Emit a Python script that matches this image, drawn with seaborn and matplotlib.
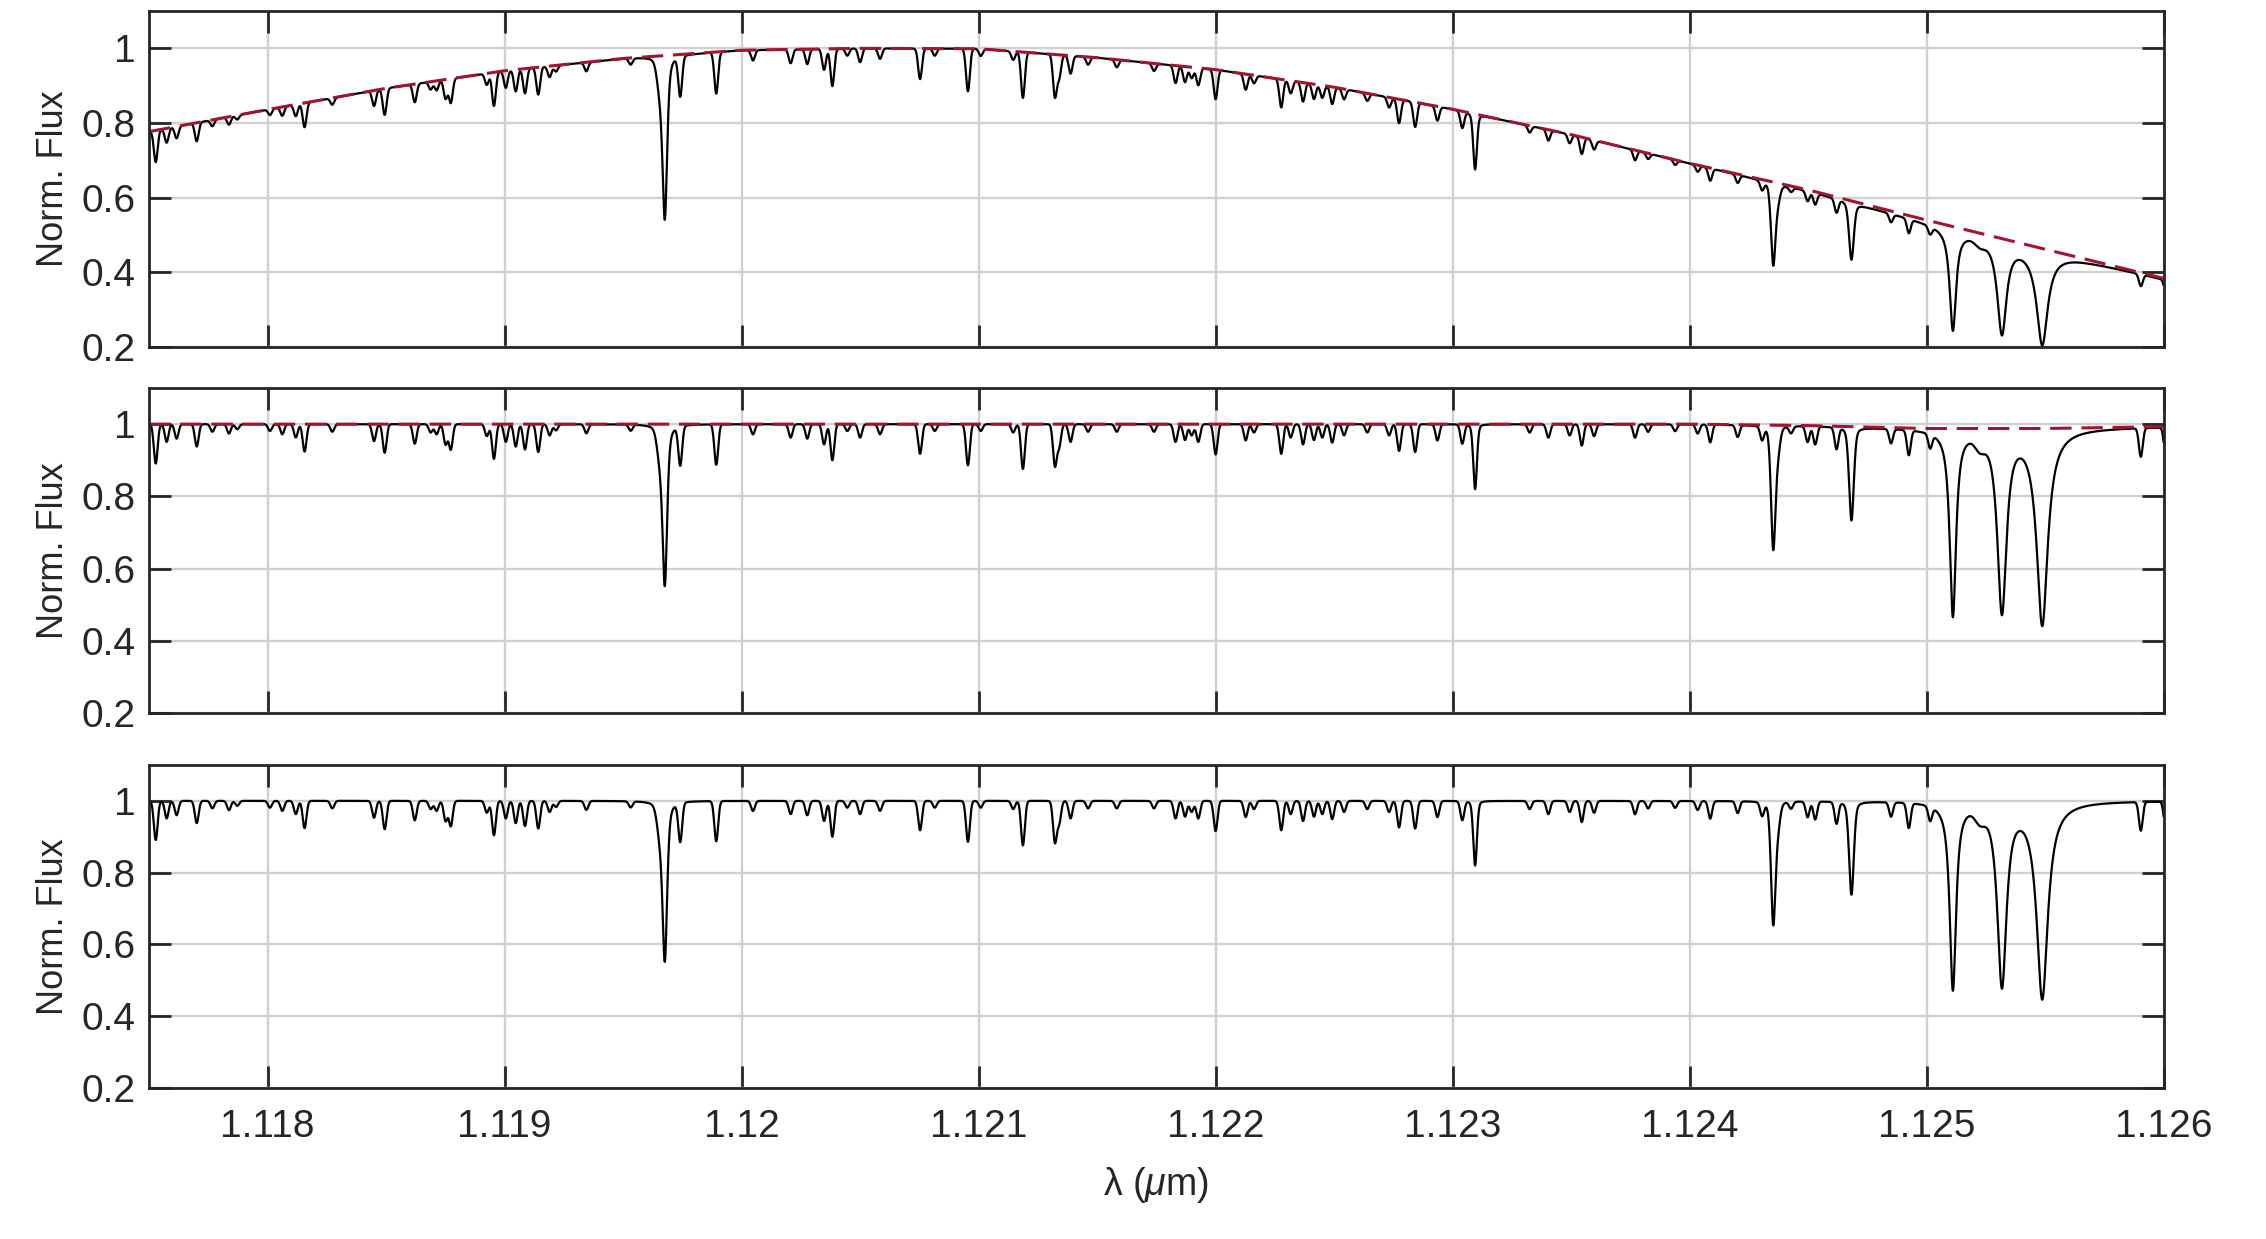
import numpy as np
import seaborn as sns
import matplotlib
matplotlib.use('Agg')
import matplotlib.pyplot as plt

# continuum knots (panel 1 dashed curve, panel 2 dashed curve)
cont_wave = [1.1175, 1.1180, 1.1185, 1.1190, 1.1195, 1.1200, 1.1205, 1.1210, 1.1215,
             1.1220, 1.1225, 1.1230, 1.1235, 1.1240, 1.1245, 1.1250, 1.1255, 1.1260]
cont_raw = [0.777, 0.836, 0.893, 0.940, 0.973, 0.995, 1.000, 0.999, 0.975,
            0.943, 0.896, 0.837, 0.769, 0.692, 0.621, 0.540, 0.462, 0.384]
cont2_wave = [1.1175, 1.1240, 1.1245, 1.1250, 1.1255, 1.1260]
cont2_vals = [1.000, 1.000, 0.996, 0.988, 0.988, 0.993]

# weak absorption lines (centre in um, depth)
weak_center = [1.117528, 1.117574, 1.117616, 1.117701, 1.117767, 1.117837, 1.117872,
               1.118010, 1.118062, 1.118119, 1.118156, 1.118273, 1.118449, 1.118494,
               1.118621, 1.118688, 1.118713, 1.118751, 1.118773, 1.118925, 1.118955,
               1.119005, 1.119047, 1.119086, 1.119142, 1.119190, 1.119217, 1.119345,
               1.119532, 1.119741, 1.119893, 1.120048, 1.120207, 1.120277, 1.120348,
               1.120383, 1.120446, 1.120500, 1.120584, 1.120753, 1.120815, 1.120955,
               1.121009, 1.121146, 1.121187, 1.121322, 1.121388, 1.121462, 1.121583,
               1.121740, 1.121831, 1.121871, 1.121899, 1.121927, 1.122000, 1.122127,
               1.122162, 1.122277, 1.122317, 1.122369, 1.122415, 1.122450, 1.122492,
               1.122542, 1.122640, 1.122732, 1.122774, 1.122842, 1.122936, 1.123041,
               1.123325, 1.123404, 1.123494, 1.123545, 1.123597, 1.123770, 1.123825,
               1.123939, 1.124034, 1.124087, 1.124203, 1.124306, 1.124428, 1.124498,
               1.124530, 1.124620, 1.124850, 1.124925, 1.125015, 1.125904, 1.126010]
weak_depth = [0.109, 0.049, 0.040, 0.062, 0.021, 0.026, 0.014,
              0.019, 0.028, 0.037, 0.076, 0.021, 0.047, 0.079,
              0.054, 0.023, 0.028, 0.056, 0.070, 0.033, 0.096,
              0.049, 0.062, 0.070, 0.077, 0.031, 0.017, 0.025,
              0.017, 0.109, 0.112, 0.028, 0.037, 0.040, 0.056,
              0.100, 0.019, 0.037, 0.028, 0.082, 0.019, 0.114,
              0.019, 0.023, 0.124, 0.114, 0.049, 0.021, 0.021,
              0.021, 0.049, 0.044, 0.031, 0.049, 0.084, 0.045,
              0.023, 0.082, 0.037, 0.056, 0.044, 0.037, 0.051,
              0.031, 0.023, 0.031, 0.074, 0.077, 0.045, 0.053,
              0.023, 0.037, 0.031, 0.059, 0.033, 0.037, 0.021,
              0.019, 0.025, 0.049, 0.033, 0.037, 0.019, 0.044,
              0.050, 0.060, 0.040, 0.070, 0.040, 0.080, 0.090]
weak_sigma = 8e-6

# strong / broad lines
strong_center = [1.119655, 1.119676, 1.121340, 1.123095, 1.124353, 1.124372,
                 1.124683, 1.125111, 1.125225, 1.125318, 1.125488]
strong_depth = [0.07, 0.44, 0.06, 0.18, 0.34, 0.06, 0.26, 0.525, 0.03, 0.515, 0.55]
strong_sigma = [1.2e-5, 1.0e-5, 8e-6, 7.8e-6, 9.5e-6, 1.0e-5, 1.0e-5, 1.36e-5, 2e-5, 1.95e-5, 2.4e-5]
strong_eta = [0.0, 0.5, 0.0, 0.2, 0.3, 0.0, 0.3, 0.9, 0.0, 0.9, 1.0]

xticks = [1.118, 1.119, 1.120, 1.121, 1.122, 1.123, 1.124, 1.125, 1.126]
xtick_labels = ['1.118', '1.119', '1.12', '1.121', '1.122', '1.123', '1.124', '1.125', '1.126']
yticks = [0.2, 0.4, 0.6, 0.8, 1.0]
ytick_labels = ['0.2', '0.4', '0.6', '0.8', '1']


def line_profile(w, c, s, eta):
    g = np.exp(-0.5 * ((w - c) / s) ** 2)
    gam = 1.1774 * s
    l = 1.0 / (1.0 + ((w - c) / gam) ** 2)
    return (1 - eta) * g + eta * l


wave = np.arange(1.1175, 1.126 + 1e-9, 2.5e-7)
norm = np.ones_like(wave)
for c, d in zip(weak_center, weak_depth):
    norm *= 1 - d * line_profile(wave, c, weak_sigma, 0.0)
for c, d, s, e in zip(strong_center, strong_depth, strong_sigma, strong_eta):
    norm *= 1 - d * line_profile(wave, c, s, e)

flux2 = norm * np.interp(wave, cont2_wave, cont2_vals)
flux1 = flux2 * np.interp(wave, cont_wave, cont_raw)

sns.set_theme(style='ticks')
plt.rcParams['font.family'] = ['Liberation Sans', 'DejaVu Sans']
plt.rcParams['mathtext.fontset'] = 'custom'
plt.rcParams['mathtext.it'] = 'Liberation Sans:italic'
plt.rcParams['mathtext.rm'] = 'Liberation Sans'

dark = '#262626'
red = '#A2142F'

fig = plt.figure(figsize=(22.66, 12.39), dpi=100)
boxes = [[0.0658, 0.7199, 0.889, 0.2712],
         [0.0658, 0.4245, 0.889, 0.2623],
         [0.0658, 0.1219, 0.889, 0.2607]]
axes = [fig.add_axes(b) for b in boxes]

series = [(flux1, cont_wave, cont_raw), (flux2, cont2_wave, cont2_vals), (norm, None, None)]
for i, (ax, (fl, cw, cv)) in enumerate(zip(axes, series)):
    sns.lineplot(x=wave, y=fl, ax=ax, color='black', lw=1.6, estimator=None, sort=False)
    if cw is not None:
        sns.lineplot(x=cw, y=cv, ax=ax, color=red, lw=2.2, linestyle=(0, (7, 3.2)),
                     estimator=None, sort=False)
    ax.set_xlim(1.1175, 1.126)
    ax.set_ylim(0.2, 1.1)
    ax.set_xticks(xticks)
    ax.set_yticks(yticks)
    ax.set_yticklabels(ytick_labels)
    if i == 2:
        ax.set_xticklabels(xtick_labels)
        ax.set_xlabel(r'λ ($\mu$m)', fontsize=27, color=dark)
        ax.xaxis.set_label_coords(0.5, -0.24)
    else:
        ax.set_xticklabels([])
        ax.set_xlabel('')
    ax.set_ylabel('Norm. Flux', fontsize=26, color=dark)
    ax.yaxis.set_label_coords(-0.039, 0.5)
    ax.grid(True, color='#d0d0d0', lw=1.7)
    ax.set_axisbelow(True)
    ax.tick_params(direction='in', top=True, right=True, length=15.8, width=2,
                   colors=dark, labelsize=28)
    ax.tick_params(axis='x', pad=15)
    ax.tick_params(axis='y', pad=10)
    for sp in ax.spines.values():
        sp.set_linewidth(2)
        sp.set_color(dark)

fig.savefig('out.png', dpi=100)
